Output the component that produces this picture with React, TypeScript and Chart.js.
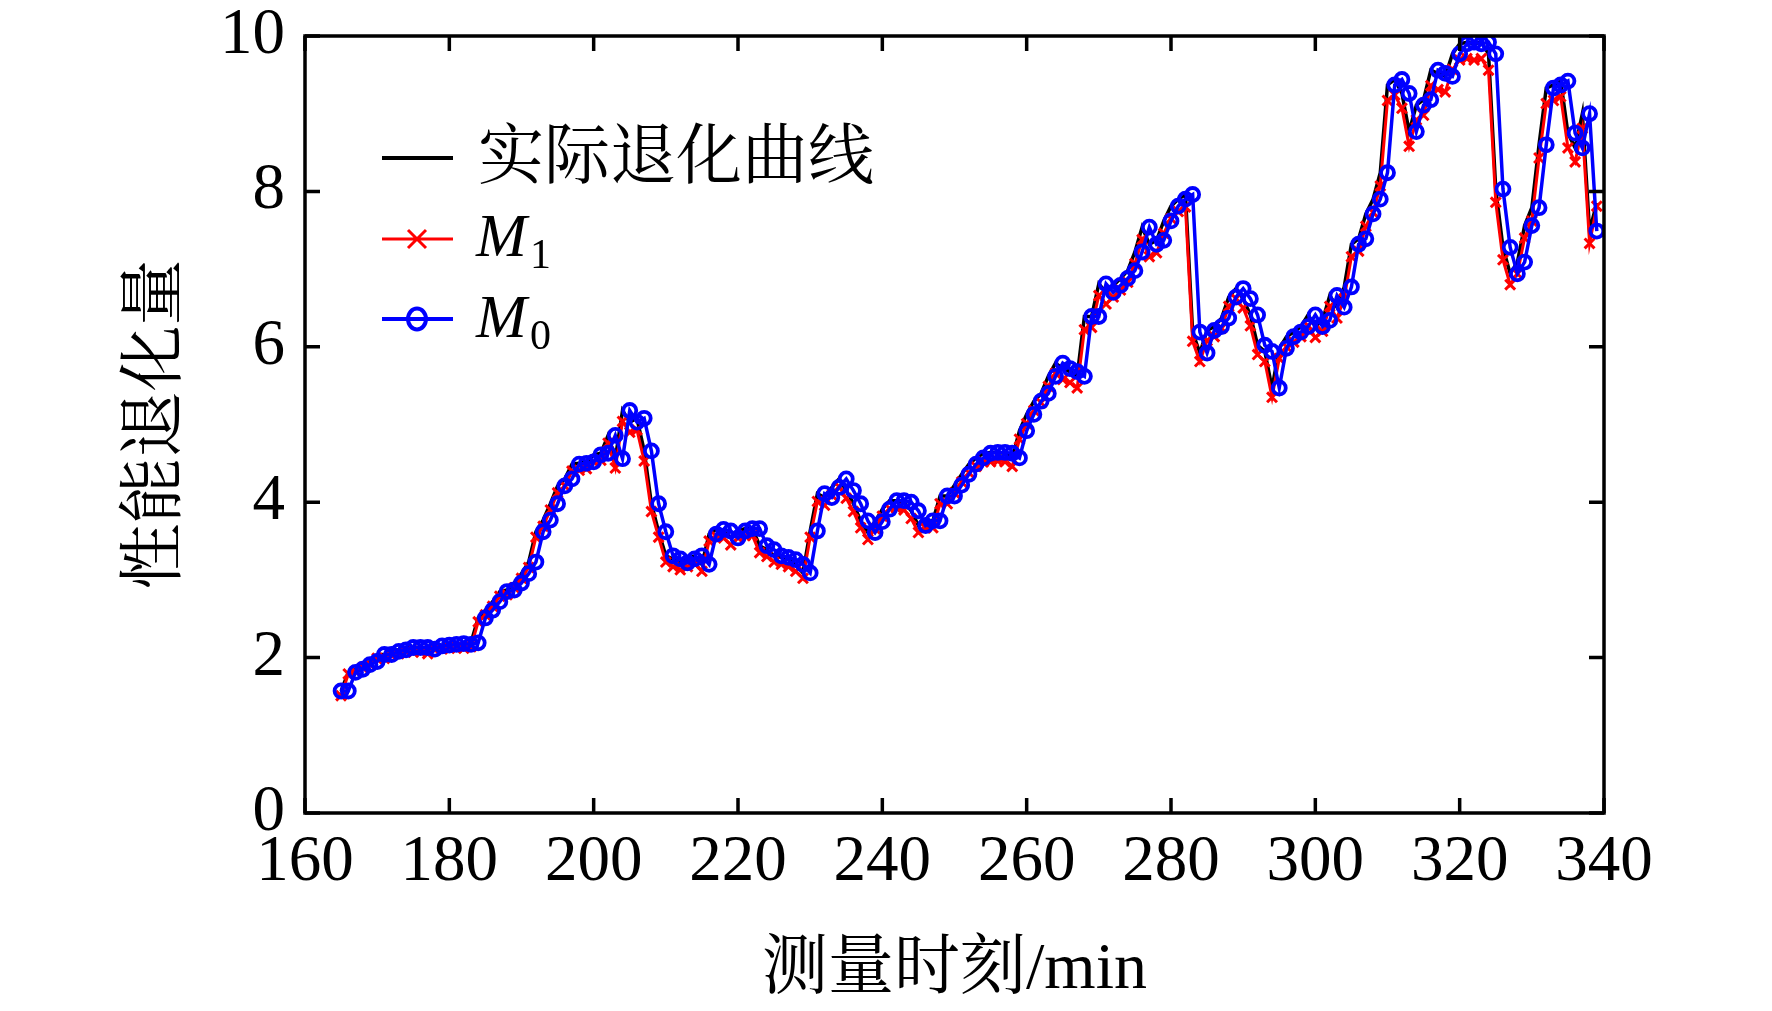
import React, { useRef, useEffect, FC } from 'react';
import Chart from 'chart.js/auto';

// measurement time (min)
const minutes = [
  165, 166, 167, 168, 169, 170, 171, 172, 173, 174,
  175, 176, 177, 178, 179, 180, 181, 182, 183, 184,
  185, 186, 187, 188, 189, 190, 191, 192, 193, 194,
  195, 196, 197, 198, 199, 200, 201, 202, 203, 204,
  205, 206, 207, 208, 209, 210, 211, 212, 213, 214,
  215, 216, 217, 218, 219, 220, 221, 222, 223, 224,
  225, 226, 227, 228, 229, 230, 231, 232, 233, 234,
  235, 236, 237, 238, 239, 240, 241, 242, 243, 244,
  245, 246, 247, 248, 249, 250, 251, 252, 253, 254,
  255, 256, 257, 258, 259, 260, 261, 262, 263, 264,
  265, 266, 267, 268, 269, 270, 271, 272, 273, 274,
  275, 276, 277, 278, 279, 280, 281, 282, 283, 284,
  285, 286, 287, 288, 289, 290, 291, 292, 293, 294,
  295, 296, 297, 298, 299, 300, 301, 302, 303, 304,
  305, 306, 307, 308, 309, 310, 311, 312, 313, 314,
  315, 316, 317, 318, 319, 320, 321, 322, 323, 324,
  325, 326, 327, 328, 329, 330, 331, 332, 333, 334,
  335, 336, 337, 338, 339,
];

// 实际退化曲线
const actual = [
  1.57, 1.81, 1.85, 1.91, 1.95, 2.04, 2.04, 2.08, 2.10, 2.13,
  2.13, 2.13, 2.11, 2.15, 2.16, 2.17, 2.18, 2.17, 2.19, 2.51,
  2.61, 2.72, 2.85, 2.87, 2.96, 3.08, 3.23, 3.62, 3.77, 3.98,
  4.21, 4.30, 4.49, 4.50, 4.52, 4.61, 4.63, 4.86, 4.56, 5.18,
  5.03, 5.08, 4.66, 3.98, 3.62, 3.31, 3.27, 3.22, 3.27, 3.31,
  3.20, 3.59, 3.65, 3.63, 3.54, 3.63, 3.66, 3.66, 3.44, 3.39,
  3.31, 3.29, 3.26, 3.20, 3.09, 3.63, 4.11, 4.06, 4.19, 4.30,
  4.15, 3.98, 3.76, 3.61, 3.75, 3.91, 4.02, 4.02, 4.00, 3.89,
  3.70, 3.76, 3.76, 4.08, 4.08, 4.22, 4.36, 4.49, 4.57, 4.63,
  4.64, 4.64, 4.63, 4.57, 4.92, 5.13, 5.30, 5.40, 5.62, 5.79,
  5.72, 5.68, 5.62, 6.39, 6.39, 6.81, 6.70, 6.79, 6.88, 6.98,
  7.22, 7.54, 7.32, 7.37, 7.62, 7.81, 7.90, 7.96, 6.19, 5.92,
  6.21, 6.26, 6.37, 6.64, 6.75, 6.62, 6.41, 6.02, 5.94, 5.47,
  5.98, 6.13, 6.19, 6.26, 6.41, 6.26, 6.34, 6.66, 6.51, 6.77,
  7.32, 7.39, 7.71, 7.90, 8.24, 9.37, 9.44, 9.26, 8.77, 9.11,
  9.18, 9.56, 9.52, 9.48, 9.77, 9.90, 9.92, 9.90, 9.92, 9.77,
  8.03, 7.28, 6.94, 7.09, 7.56, 7.79, 8.60, 9.33, 9.37, 9.42,
  8.75, 8.56, 9.00, 7.49, 7.85,
];

// M1
const modelM1 = [
  1.51, 1.79, 1.82, 1.87, 1.91, 1.99, 1.99, 2.03, 2.05, 2.08,
  2.07, 2.08, 2.05, 2.10, 2.11, 2.12, 2.13, 2.12, 2.14, 2.46,
  2.55, 2.66, 2.79, 2.81, 2.90, 3.02, 3.16, 3.55, 3.69, 3.90,
  4.12, 4.21, 4.40, 4.41, 4.43, 4.52, 4.54, 4.76, 4.44, 5.04,
  4.90, 4.93, 4.53, 3.88, 3.55, 3.23, 3.17, 3.13, 3.17, 3.21,
  3.11, 3.50, 3.56, 3.54, 3.45, 3.54, 3.57, 3.57, 3.35, 3.30,
  3.23, 3.20, 3.17, 3.11, 3.02, 3.55, 4.01, 3.96, 4.09, 4.20,
  4.05, 3.88, 3.67, 3.52, 3.66, 3.82, 3.92, 3.92, 3.90, 3.79,
  3.61, 3.67, 3.67, 3.98, 3.98, 4.12, 4.26, 4.38, 4.46, 4.52,
  4.52, 4.53, 4.52, 4.46, 4.81, 5.01, 5.18, 5.28, 5.49, 5.66,
  5.58, 5.54, 5.47, 6.22, 6.25, 6.66, 6.55, 6.64, 6.73, 6.83,
  7.07, 7.38, 7.16, 7.21, 7.46, 7.65, 7.74, 7.80, 6.07, 5.81,
  6.08, 6.13, 6.24, 6.52, 6.62, 6.50, 6.27, 5.90, 5.81, 5.35,
  5.85, 6.00, 6.06, 6.13, 6.27, 6.12, 6.20, 6.52, 6.37, 6.62,
  7.16, 7.23, 7.55, 7.73, 8.07, 9.17, 9.24, 9.07, 8.58, 8.92,
  8.98, 9.36, 9.31, 9.28, 9.57, 9.69, 9.71, 9.69, 9.71, 9.56,
  7.86, 7.12, 6.80, 6.94, 7.40, 7.62, 8.43, 9.13, 9.17, 9.22,
  8.56, 8.38, 8.81, 7.33, 7.81,
];

// M0
const modelM0 = [
  1.57, 1.57, 1.81, 1.85, 1.91, 1.95, 2.04, 2.04, 2.08, 2.10,
  2.13, 2.13, 2.13, 2.11, 2.15, 2.16, 2.17, 2.18, 2.17, 2.19,
  2.51, 2.61, 2.72, 2.85, 2.87, 2.96, 3.08, 3.23, 3.62, 3.77,
  3.98, 4.21, 4.30, 4.49, 4.50, 4.52, 4.61, 4.63, 4.86, 4.56,
  5.18, 5.03, 5.08, 4.66, 3.98, 3.62, 3.31, 3.27, 3.22, 3.27,
  3.31, 3.20, 3.59, 3.65, 3.63, 3.54, 3.63, 3.66, 3.66, 3.44,
  3.39, 3.31, 3.29, 3.26, 3.20, 3.09, 3.63, 4.11, 4.06, 4.19,
  4.30, 4.15, 3.98, 3.76, 3.61, 3.75, 3.91, 4.02, 4.02, 4.00,
  3.89, 3.70, 3.76, 3.76, 4.08, 4.08, 4.22, 4.36, 4.49, 4.57,
  4.63, 4.64, 4.64, 4.63, 4.57, 4.92, 5.13, 5.30, 5.40, 5.62,
  5.79, 5.72, 5.68, 5.62, 6.39, 6.39, 6.81, 6.70, 6.79, 6.88,
  6.98, 7.22, 7.54, 7.32, 7.37, 7.62, 7.81, 7.90, 7.96, 6.19,
  5.92, 6.21, 6.26, 6.37, 6.64, 6.75, 6.62, 6.41, 6.02, 5.94,
  5.47, 5.98, 6.13, 6.19, 6.26, 6.41, 6.26, 6.34, 6.66, 6.51,
  6.77, 7.32, 7.39, 7.71, 7.90, 8.24, 9.37, 9.44, 9.26, 8.77,
  9.11, 9.18, 9.56, 9.52, 9.48, 9.77, 9.90, 9.92, 9.90, 9.92,
  9.77, 8.03, 7.28, 6.94, 7.09, 7.56, 7.79, 8.60, 9.33, 9.37,
  9.42, 8.75, 8.56, 9.00, 7.49,
];

const SERIF = '"Liberation Serif", "Times New Roman", serif';
const CJK = '"Liberation Serif", "Noto Serif CJK SC", "Noto Sans CJK SC", serif';

// box on + inward ticks on all four sides, and the MATLAB-like legend
const framePlugin = {
  id: 'frameAndLegend',
  afterDraw(chart: any) {
    const { ctx, chartArea: a, scales } = chart;
    const tl = 15;
    ctx.save();
    ctx.strokeStyle = '#000';
    ctx.lineWidth = 3.5;
    ctx.strokeRect(a.left, a.top, a.right - a.left, a.bottom - a.top);
    ctx.beginPath();
    scales.x.ticks.forEach((t: any) => {
      const px = scales.x.getPixelForValue(t.value);
      ctx.moveTo(px, a.bottom);
      ctx.lineTo(px, a.bottom - tl);
      ctx.moveTo(px, a.top);
      ctx.lineTo(px, a.top + tl);
    });
    scales.y.ticks.forEach((t: any) => {
      const py = scales.y.getPixelForValue(t.value);
      ctx.moveTo(a.left, py);
      ctx.lineTo(a.left + tl, py);
      ctx.moveTo(a.right, py);
      ctx.lineTo(a.right - tl, py);
    });
    ctx.stroke();

    // legend
    const x0 = 382, x1 = 453, mx = 417;
    ctx.lineCap = 'butt';
    ctx.fillStyle = '#000';

    ctx.strokeStyle = '#000';
    ctx.lineWidth = 4;
    ctx.beginPath();
    ctx.moveTo(x0, 158);
    ctx.lineTo(x1, 158);
    ctx.stroke();
    ctx.font = `66px ${CJK}`;
    ctx.textBaseline = 'middle';
    ctx.fillText('实际退化曲线', 478, 161);

    ctx.strokeStyle = '#ff0000';
    ctx.lineWidth = 3;
    ctx.beginPath();
    ctx.moveTo(x0, 239);
    ctx.lineTo(x1, 239);
    ctx.moveTo(mx - 9, 230);
    ctx.lineTo(mx + 9, 248);
    ctx.moveTo(mx - 9, 248);
    ctx.lineTo(mx + 9, 230);
    ctx.stroke();

    ctx.strokeStyle = '#0000ff';
    ctx.lineWidth = 4;
    ctx.beginPath();
    ctx.moveTo(x0, 319);
    ctx.lineTo(x1, 319);
    ctx.stroke();
    ctx.beginPath();
    ctx.ellipse(mx, 319, 9, 10.5, 0, 0, Math.PI * 2);
    ctx.stroke();

    ctx.textBaseline = 'alphabetic';
    ctx.font = `italic 61px ${SERIF}`;
    ctx.fillText('M', 476, 256);
    ctx.fillText('M', 476, 337);
    ctx.font = `42px ${SERIF}`;
    ctx.fillText('1', 530, 268);
    ctx.fillText('0', 530, 349);
    ctx.restore();
  },
};

const DegradationChart: FC = () => {
  const chartRef = useRef<HTMLCanvasElement>(null);

  useEffect(() => {
    document.body.style.margin = '0';
    const ctx = chartRef.current?.getContext('2d');
    if (!ctx) return;
    const myChart = new Chart(ctx, {
      type: 'line',
      data: {
        labels: minutes,
        datasets: [
          {
            label: '实际退化曲线',
            data: actual,
            borderColor: '#000000',
            borderWidth: 3.5,
            pointRadius: 0,
            tension: 0,
            order: 3,
            clip: 0,
          },
          {
            label: 'M1',
            data: modelM1,
            borderColor: '#ff0000',
            borderWidth: 3,
            pointStyle: 'crossRot',
            pointRadius: 7,
            pointBorderWidth: 3,
            pointBorderColor: '#ff0000',
            pointBackgroundColor: '#ff0000',
            tension: 0,
            order: 2,
            clip: 0,
          },
          {
            label: 'M0',
            data: modelM0,
            borderColor: '#0000ff',
            borderWidth: 3.5,
            pointStyle: 'circle',
            pointRadius: 6.5,
            pointBorderWidth: 3.8,
            pointBorderColor: '#0000ff',
            pointBackgroundColor: 'rgba(0,0,0,0)',
            tension: 0,
            order: 1,
            clip: 0,
          },
        ],
      } as any,
      options: {
        animation: false,
        responsive: false,
        devicePixelRatio: 1,
        events: [],
        layout: { padding: { left: 0, right: 168, top: 36, bottom: 0 } },
        plugins: {
          legend: { display: false },
          tooltip: { enabled: false },
        },
        scales: {
          x: {
            type: 'linear',
            min: 160,
            max: 340,
            grid: { display: false, drawTicks: false },
            border: { display: false },
            ticks: {
              stepSize: 20,
              color: '#000',
              padding: 17,
              maxRotation: 0,
              font: { family: SERIF, size: 65, lineHeight: 1 },
            },
            title: {
              display: true,
              text: '测量时刻/min',
              color: '#000',
              font: { family: CJK, size: 66, lineHeight: 1.2 },
              padding: { top: 0, bottom: 1 },
            },
            afterFit: (scale: any) => {
              scale.height = 198;
            },
          },
          y: {
            min: 0,
            max: 10,
            grid: { display: false, drawTicks: false },
            border: { display: false },
            ticks: {
              stepSize: 2,
              color: '#000',
              padding: 20,
              font: { family: SERIF, size: 65, lineHeight: 0.2 },
            },
            title: {
              display: true,
              text: '性能退化量',
              color: '#000',
              font: { family: CJK, size: 66, lineHeight: 1.2 },
              padding: { top: 118, bottom: 0 },
            },
            afterFit: (scale: any) => {
              scale.width = 305;
            },
          },
        },
      } as any,
      plugins: [framePlugin],
    });

    return () => {
      myChart.destroy();
    };
  }, []);

  return (
    <canvas
      ref={chartRef}
      width="1772"
      height="1011"
      style={{ display: 'block', width: '1772px', height: '1011px' }}
    ></canvas>
  );
};

export default function App() {
  return <DegradationChart />;
}
